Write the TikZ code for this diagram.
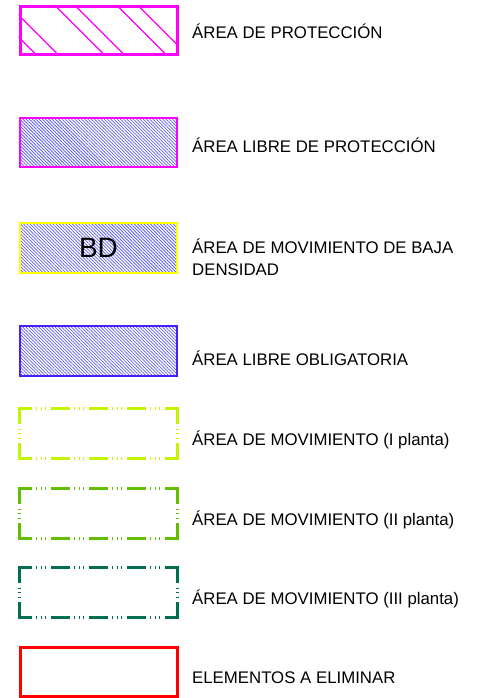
\documentclass[tikz,border=0pt]{standalone}
\usepackage{fontspec}
\setmainfont{Liberation Sans}
\usetikzlibrary{patterns.meta}

\definecolor{protcol}{RGB}{255,0,255}
\definecolor{hatchcol}{RGB}{95,95,235}
\definecolor{bdcol}{RGB}{255,255,0}
\definecolor{oblcol}{RGB}{70,30,255}
\definecolor{plantaone}{RGB}{195,245,0}
\definecolor{plantatwo}{RGB}{100,190,0}
\definecolor{plantathree}{RGB}{0,110,80}
\definecolor{elimcol}{RGB}{255,0,0}

\begin{document}
\begin{tikzpicture}[
    x=1pt, y=-1pt,
    swatch/.style={rectangle, minimum width=157pt, minimum height=49pt, inner sep=0pt},
    hatched/.style={pattern={Lines[angle=-45,distance=2.3pt,line width=0.75pt]}, pattern color=hatchcol},
    legtext/.style={anchor=base west, inner sep=0pt, font=\fontsize{16.8}{22}\selectfont, align=left},
    planta/.style={line width=3pt, dash pattern=on 19pt off 4.3pt on 1.2pt off 3.3pt on 1.2pt off 3.3pt on 1.2pt off 4.5pt}
  ]
  \useasboundingbox (0,0) rectangle (493,698);

  % Area de proteccion
  \node[swatch, minimum height=48pt, draw=protcol, line width=3pt] (prot) at (98.5,30.5) {};
  \begin{scope}
    \clip (prot.north west) rectangle (prot.south east);
    \foreach \c in {-32,-10,36,56,98,119}
      \draw[protcol, line width=1.2pt] ([xshift=\c pt]prot.north west) -- ++(60,60);
  \end{scope}
  \node[legtext] (protlbl) at (192,39) {ÁREA DE PROTECCIÓN};

  % Area libre de proteccion
  \node[swatch, hatched, draw=protcol, line width=2.5pt] (libre) at (98.5,142.5) {};
  \node[legtext] (librelbl) at (192,152) {ÁREA LIBRE DE PROTECCIÓN};

  % Area de movimiento de baja densidad
  \node[swatch, minimum height=50pt, hatched, draw=bdcol, line width=2pt,
        font=\fontsize{28}{28}\selectfont] (bd) at (98.5,248) {BD};
  \node[legtext] (bdlbl) at (192,275) {ÁREA DE MOVIMIENTO DE BAJA\\DENSIDAD};

  % Area libre obligatoria
  \node[swatch, minimum height=50pt, hatched, draw=oblcol, line width=2.5pt] (obl) at (98.5,351) {};
  \node[legtext] (obllbl) at (192,365) {ÁREA LIBRE OBLIGATORIA};

  % Areas de movimiento por plantas
  \node[swatch, minimum height=50pt] (movone) at (98.5,433.5) {};
  \node[legtext] (movonelbl) at (192,445) {ÁREA DE MOVIMIENTO (I planta)};

  \node[swatch, minimum height=50pt] (movtwo) at (98.5,513.5) {};
  \node[legtext] (movtwolbl) at (192,525) {ÁREA DE MOVIMIENTO (II planta)};

  \node[swatch, minimum height=50pt] (movthree) at (98.5,592.5) {};
  \node[legtext] (movthreelbl) at (192,604) {ÁREA DE MOVIMIENTO (III planta)};

  \foreach \b/\col in {movone/plantaone, movtwo/plantatwo, movthree/plantathree} {
    \draw[planta, draw=\col, dash phase=5.5pt] ([xshift=-1.5pt]\b.north west) -- ([xshift=1.5pt]\b.north east);
    \draw[planta, draw=\col, dash phase=5.5pt] ([xshift=-1.5pt]\b.south west) -- ([xshift=1.5pt]\b.south east);
    \draw[planta, draw=\col, dash phase=1.5pt] ([yshift=1.5pt]\b.north west) -- ([yshift=-1.5pt]\b.south west);
    \draw[planta, draw=\col, dash phase=1.5pt] ([yshift=1.5pt]\b.north east) -- ([yshift=-1.5pt]\b.south east);
  }

  % Elementos a eliminar
  \node[swatch, draw=elimcol, line width=3pt] (elim) at (98.5,671.5) {};
  \node[legtext] (elimlbl) at (192,683) {ELEMENTOS A ELIMINAR};
\end{tikzpicture}
\end{document}
